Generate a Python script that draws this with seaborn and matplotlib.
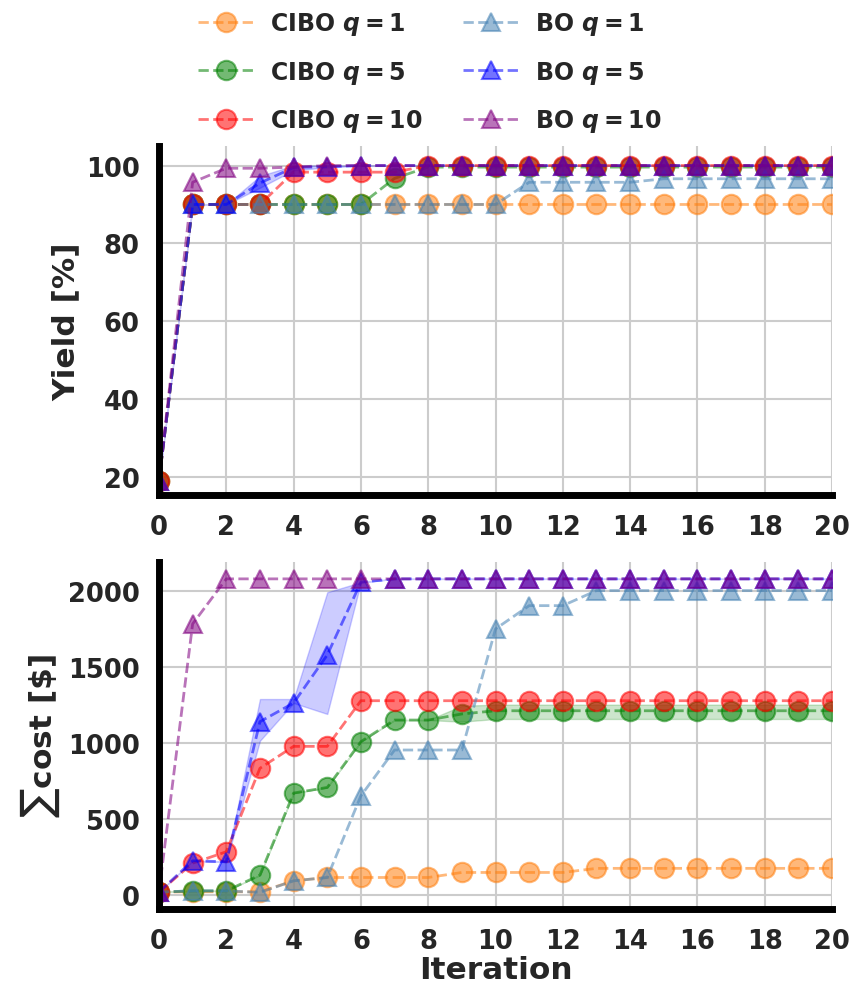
import numpy as np
import pandas as pd
import matplotlib
matplotlib.use("Agg")
import matplotlib.pyplot as plt
import seaborn as sns

iterations = list(range(21))

# yield [%]
cibo_q1_yield = [19, 90, 90, 90, 90, 90, 90, 90, 90, 90, 90, 90, 90, 90, 90, 90, 90, 90, 90, 90, 90]
cibo_q5_yield = [19, 90, 90, 90, 90, 90, 90, 96.7, 99.6, 99.6, 99.6, 99.6, 99.6, 99.6, 99.6, 99.6, 99.6, 99.6, 99.6, 99.6, 99.6]
cibo_q10_yield = [19, 90, 90, 90, 98.3, 98.3, 98.3, 98.3, 100, 100, 100, 100, 100, 100, 100, 100, 100, 100, 100, 100, 100]
bo_q1_yield = [19, 90, 90, 90, 90, 90, 90, 90, 90, 90, 90, 95.7, 95.7, 95.7, 95.7, 96.6, 96.6, 96.6, 96.6, 96.6, 96.6]
bo_q5_yield = [19, 90, 90, 95.5, 99.5, 99.7, 100, 100, 100, 100, 100, 100, 100, 100, 100, 100, 100, 100, 100, 100, 100]
bo_q10_yield = [19, 95.7, 99.3, 99.3, 99.6, 100, 100, 100, 100, 100, 100, 100, 100, 100, 100, 100, 100, 100, 100, 100, 100]
bo_q5_yield_lo = [19, 90, 90, 94.3, 98.8, 99.5, 100, 100, 100, 100, 100, 100, 100, 100, 100, 100, 100, 100, 100, 100, 100]
bo_q5_yield_hi = [19, 90, 90, 97.3, 100, 100, 100, 100, 100, 100, 100, 100, 100, 100, 100, 100, 100, 100, 100, 100, 100]

# cumulative cost [$]
cibo_q1_cost = [20, 22, 22, 22, 94, 116, 116, 116, 116, 149, 149, 149, 149, 176, 176, 176, 176, 176, 176, 176, 176]
cibo_q5_cost = [20, 28, 28, 132, 671, 708, 1009, 1151, 1151, 1191, 1212, 1212, 1212, 1212, 1212, 1212, 1212, 1212, 1212, 1212, 1212]
cibo_q10_cost = [20, 210, 285, 834, 978, 978, 1278, 1278, 1278, 1278, 1278, 1278, 1278, 1278, 1278, 1278, 1278, 1278, 1278, 1278, 1278]
bo_q1_cost = [20, 28, 28, 18, 94, 116, 653, 954, 954, 954, 1750, 1903, 1903, 2002, 2002, 2002, 2002, 2002, 2002, 2002, 2002]
bo_q5_cost = [20, 226, 219, 1140, 1263, 1579, 2057, 2079, 2079, 2079, 2079, 2079, 2079, 2079, 2079, 2079, 2079, 2079, 2079, 2079, 2079]
bo_q10_cost = [20, 1783, 2079, 2079, 2079, 2079, 2079, 2079, 2079, 2079, 2079, 2079, 2079, 2079, 2079, 2079, 2079, 2079, 2079, 2079, 2079]
cibo_q5_cost_lo = [20, 28, 28, 132, 671, 708, 1009, 1151, 1151, 1140, 1158, 1158, 1158, 1158, 1158, 1158, 1158, 1158, 1158, 1158, 1158]
cibo_q5_cost_hi = [20, 28, 28, 132, 671, 708, 1009, 1151, 1151, 1245, 1252, 1252, 1252, 1252, 1252, 1252, 1252, 1252, 1252, 1252, 1252]
bo_q5_cost_lo = [20, 226, 219, 1015, 1263, 1191, 2057, 2079, 2079, 2079, 2079, 2079, 2079, 2079, 2079, 2079, 2079, 2079, 2079, 2079, 2079]
bo_q5_cost_hi = [20, 226, 219, 1289, 1289, 1991, 2057, 2079, 2079, 2079, 2079, 2079, 2079, 2079, 2079, 2079, 2079, 2079, 2079, 2079, 2079]

labels = [r"CIBO $\boldsymbol{q=1}$", r"CIBO $\boldsymbol{q=5}$", r"CIBO $\boldsymbol{q=10}$",
          r"BO $\boldsymbol{q=1}$", r"BO $\boldsymbol{q=5}$", r"BO $\boldsymbol{q=10}$"]
colors = ["tab:orange", "green", "red", "steelblue", "blue", "purple"]
markers = ["o", "o", "o", "^", "^", "^"]

sns.set_theme(style="whitegrid")
plt.rcParams["font.family"] = ["DejaVu Sans"]
plt.rcParams["font.weight"] = "bold"
plt.rcParams["axes.labelweight"] = "bold"

fig = plt.figure(figsize=(8.52, 9.87), dpi=100)
ax1 = fig.add_axes([0.1866, 0.4975, 0.79, 0.3535])
ax2 = fig.add_axes([0.1866, 0.0785, 0.79, 0.3511])

yield_series = [cibo_q1_yield, cibo_q5_yield, cibo_q10_yield, bo_q1_yield, bo_q5_yield, bo_q10_yield]
cost_series = [cibo_q1_cost, cibo_q5_cost, cibo_q10_cost, bo_q1_cost, bo_q5_cost, bo_q10_cost]

for ax, series in [(ax1, yield_series), (ax2, cost_series)]:
    for vals, lab, c, m in zip(series, labels, colors, markers):
        sns.lineplot(x=iterations, y=vals, ax=ax, color=c, marker=m, linestyle="--",
                     linewidth=2, markersize=14 if m == "o" else 13, alpha=0.55,
                     markeredgecolor=c, markeredgewidth=1.5, label=lab)

ax1.fill_between(iterations, bo_q5_yield_lo, bo_q5_yield_hi, color="blue", alpha=0.2, linewidth=1)
ax2.fill_between(iterations, cibo_q5_cost_lo, cibo_q5_cost_hi, color="green", alpha=0.2, linewidth=1)
ax2.fill_between(iterations, bo_q5_cost_lo, bo_q5_cost_hi, color="blue", alpha=0.2, linewidth=1)

handles, labs = ax1.get_legend_handles_labels()
for ax in (ax1, ax2):
    ax.get_legend().remove()
    ax.set_xlim(0, 20)
    ax.set_xticks(range(0, 21, 2))
    ax.tick_params(axis="both", labelsize=18.5, length=0, pad=14, labelcolor="#262626")
    for s in ["top", "right"]:
        ax.spines[s].set_visible(False)
    for s in ["left", "bottom"]:
        ax.spines[s].set_color("black")
        ax.spines[s].set_linewidth(5)
        ax.spines[s].set_zorder(5)
    ax.grid(True, color="#cccccc", linewidth=1.5)

ax1.set_ylim(15.4, 105)
ax1.set_yticks([20, 40, 60, 80, 100])
ax1.set_ylabel("Yield [%]", fontsize=22.5, color="#262626")
ax2.set_ylim(-88, 2190)
ax2.set_yticks([0, 500, 1000, 1500, 2000])
ax2.set_ylabel(r"$\sum$cost [\$]", fontsize=22.5, color="#262626")
ax2.set_xlabel("Iteration", fontsize=22.5, color="#262626", labelpad=1)

fig.legend(handles, labs, loc="upper center", bbox_to_anchor=(0.505, 1.01), ncol=2,
           frameon=False, fontsize=17, handlelength=2.3, handletextpad=0.75,
           columnspacing=1.7, labelspacing=0.9)

fig.savefig("out.png", dpi=100)
